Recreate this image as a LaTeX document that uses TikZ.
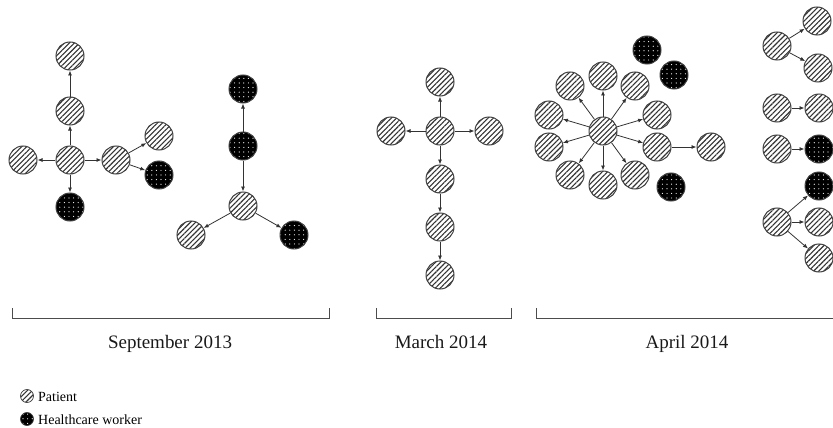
\documentclass[tikz,border=0pt]{standalone}
\usepackage{fontspec}
\setmainfont{Liberation Serif}
\usepackage{xcolor}
\usetikzlibrary{arrows.meta,patterns.meta}

\begin{document}
\begin{tikzpicture}[x=1pt,y=-1pt,
            patient/.style = {circle, draw=black!75, line width=1pt, minimum size=28pt, inner sep=0pt,
                preaction={fill=white}, pattern={Lines[angle=45,distance=3.6pt,line width=1.1pt]}, pattern color=black!80},
            hcw/.style = {circle, draw=black!75, line width=1pt, minimum size=28pt, inner sep=0pt,
                preaction={fill=black}, pattern={Dots[distance=4.6pt,radius=0.6pt]}, pattern color=white},
            link/.style = {-{Latex[length=5pt,width=4pt]}, line width=0.8pt, black!80},
            period/.style = {anchor=base, font=\fontsize{19}{22}\selectfont, text=black!90},
            keytext/.style = {anchor=base west, inner sep=1pt, font=\fontsize{14}{16}\selectfont},
            bracket/.style = {line width=0.9pt, black!70}]
        \useasboundingbox (0,0) rectangle (833,428);
        % September 2013, first cluster
        \node[patient] (sa) at (70,160) {};
        \node[patient] (sb) at (70,111) {};
        \node[patient] (sc) at (70,56) {};
        \node[patient] (sd) at (23,160) {};
        \node[patient] (se) at (116,160) {};
        \node[hcw] (sf) at (70,207) {};
        \node[patient] (sg) at (159,136) {};
        \node[hcw] (sh) at (159,175) {};
        \draw[link] (sa) -- (sb);
        \draw[link] (sb) -- (sc);
        \draw[link] (sa) -- (sd);
        \draw[link] (sa) -- (se);
        \draw[link] (sa) -- (sf);
        \draw[link] (se) -- (sg);
        \draw[link] (se) -- (sh);
        % September 2013, second cluster
        \node[hcw] (ta) at (243,89) {};
        \node[hcw] (tb) at (243,146) {};
        \node[patient] (tc) at (243,206) {};
        \node[patient] (td) at (191,235) {};
        \node[hcw] (te) at (294,235) {};
        \draw[link] (tb) -- (ta);
        \draw[link] (tb) -- (tc);
        \draw[link] (tc) -- (td);
        \draw[link] (tc) -- (te);
        % March 2014
        \node[patient] (ma) at (440,131) {};
        \node[patient] (mb) at (440,82) {};
        \node[patient] (mc) at (391,131) {};
        \node[patient] (md) at (489,131) {};
        \node[patient] (me) at (440,179) {};
        \node[patient] (mf) at (440,227) {};
        \node[patient] (mg) at (440,275) {};
        \draw[link] (ma) -- (mb);
        \draw[link] (ma) -- (mc);
        \draw[link] (ma) -- (md);
        \draw[link] (ma) -- (me);
        \draw[link] (me) -- (mf);
        \draw[link] (mf) -- (mg);
        % April 2014, star
        \node[patient] (aa) at (603,131) {};
        \node[patient] (a1) at (603,76) {};
        \node[patient] (a2) at (635,86) {};
        \node[patient] (a3) at (657,115) {};
        \node[patient] (a4) at (657,147) {};
        \node[patient] (a5) at (635,175) {};
        \node[patient] (a6) at (603,185) {};
        \node[patient] (a7) at (570,175) {};
        \node[patient] (a8) at (549,147) {};
        \node[patient] (a9) at (549,115) {};
        \node[patient] (a10) at (570,86) {};
        \node[patient] (ab) at (711,147) {};
        \node[hcw] (ha) at (647,50) {};
        \node[hcw] (hb) at (674,75) {};
        \node[hcw] (hc) at (671,187) {};
        \foreach \n in {a1,a2,a3,a4,a5,a6,a7,a8,a9,a10}
            \draw[link] (aa) -- (\n);
        \draw[link] (a4) -- (ab);
        % April 2014, small clusters
        \node[patient] (ba) at (777,46) {};
        \node[patient] (bb) at (817,21) {};
        \node[patient] (bc) at (818,68) {};
        \node[patient] (bd) at (777,108) {};
        \node[patient] (be) at (819,108) {};
        \node[patient] (bf) at (777,149) {};
        \node[hcw] (bg) at (819,149) {};
        \node[patient] (bh) at (777,222) {};
        \node[hcw] (bi) at (819,186) {};
        \node[patient] (bj) at (819,222) {};
        \node[patient] (bk) at (819,258) {};
        \draw[link] (ba) -- (bb);
        \draw[link] (ba) -- (bc);
        \draw[link] (bd) -- (be);
        \draw[link] (bf) -- (bg);
        \draw[link] (bh) -- (bi);
        \draw[link] (bh) -- (bj);
        \draw[link] (bh) -- (bk);
        % periods
        \draw[bracket] (12,308) |- (329,318) -- (329,308);
        \draw[bracket] (376,308) |- (511,318) -- (511,308);
        \draw[bracket] (536,308) |- (840,318);
        \node[period] (lsep) at (170,348) {September 2013};
        \node[period] (lmar) at (441,348) {March 2014};
        \node[period] (lapr) at (687,348) {April 2014};
        % key
        \node[patient, minimum size=13pt, line width=0.7pt] (kp) at (27,396) {};
        \node[hcw, minimum size=13pt, line width=0.7pt] (kh) at (27,419) {};
        \node[keytext] (tp) at (37,401) {Patient};
        \node[keytext] (th) at (37,424) {Healthcare worker};
\end{tikzpicture}
\end{document}
